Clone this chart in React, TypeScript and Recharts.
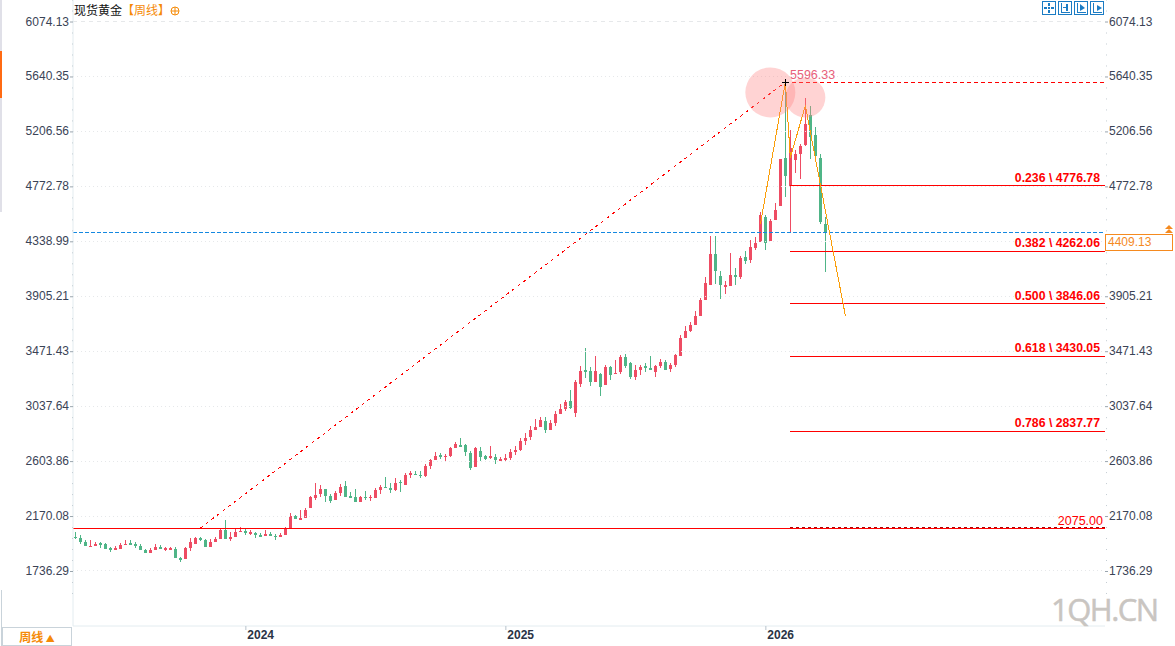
import React from "react";
import { ComposedChart, Bar, Line, XAxis, YAxis, ReferenceLine, ReferenceDot } from "recharts";

const yearLabels = ["2024", "2025", "2026"];
const yearTicks = [34, 86, 138];
const priceTicks = [6074.13, 5640.35, 5206.56, 4772.78, 4338.99, 3905.21, 3471.43, 3037.64, 2603.86, 2170.08, 1736.29];

const opens = [2001,1996,1965,1928,1936,1957,1949,1917,1904,1909,1941,1957,1951,1933,1904,1878,1901,1925,1901,1901,1909,1838,1830,1917,1949,1996,1980,1925,1965,1988,2059,1988,2004,2044,2051,2028,2036,2020,2012,2028,2015,2004,2020,2075,2172,2141,2156,2235,2314,2346,2380,2330,2299,2354,2409,2330,2322,2283,2322,2314,2314,2377,2401,2393,2377,2435,2417,2498,2504,2496,2488,2567,2614,2654,2641,2646,2709,2733,2733,2670,2559,2685,2646,2630,2638,2606,2614,2630,2677,2693,2766,2797,2853,2876,2924,2853,2908,2979,3018,3082,2987,3216,3326,3319,3232,3295,3208,3350,3295,3311,3429,3381,3271,3326,3358,3342,3311,3358,3389,3334,3366,3434,3576,3631,3678,3749,3876,3994,4239,4065,3978,3986,4073,4057,4215,4191,4286,4334,4531,4342,4507,4618,4993,4772,4977,5025,5096,5340,5175,4999,4476];
const closes = [1996,1965,1936,1933,1949,1941,1912,1899,1917,1941,1949,1941,1933,1901,1880,1901,1925,1909,1917,1917,1838,1823,1917,1965,1996,1980,1925,1965,1986,2059,1988,2004,2044,2051,2036,2044,2020,2004,2028,2012,2001,2020,2075,2170,2149,2154,2220,2320,2338,2380,2330,2291,2354,2401,2322,2314,2283,2322,2314,2322,2377,2401,2393,2377,2433,2430,2496,2509,2496,2488,2567,2614,2646,2638,2646,2709,2741,2717,2677,2549,2709,2638,2622,2646,2614,2622,2630,2677,2693,2764,2790,2853,2876,2932,2853,2908,2979,3018,3074,3026,3232,3319,3311,3232,3319,3192,3350,3287,3303,3429,3358,3271,3326,3350,3342,3326,3358,3389,3326,3366,3445,3576,3631,3678,3749,3876,4010,4239,4104,3994,3994,4073,4057,4207,4183,4294,4325,4547,4326,4499,4586,4985,4851,5072,5025,5088,5269,5159,5009,4492,4409.13];
const highs = [2044,2017,1980,1980,1965,1965,1954,1928,1930,1957,1980,1980,1965,1946,1909,1915,1949,1938,1925,1928,1925,1846,1925,1996,2004,2004,1986,1986,2004,2073,2138,2046,2070,2083,2067,2059,2044,2033,2059,2044,2028,2036,2083,2194,2180,2220,2233,2327,2430,2417,2385,2346,2364,2425,2449,2362,2385,2330,2370,2338,2393,2417,2480,2433,2472,2456,2512,2527,2527,2527,2583,2622,2677,2670,2662,2717,2756,2788,2741,2685,2717,2717,2654,2725,2662,2638,2662,2701,2725,2790,2825,2884,2940,2955,2955,2932,3003,3058,3090,3169,3248,3358,3500,3350,3437,3303,3366,3358,3405,3445,3453,3389,3366,3366,3381,3437,3366,3413,3405,3381,3453,3599,3670,3702,3789,3891,4057,4381,4381,4104,4026,4247,4128,4223,4262,4349,4373,4573,4547,4515,4642,4990,5596.33,5214,5056,5109,5467,5411,5238,5025,4531];
const lows = [1991,1949,1933,1925,1933,1917,1909,1886,1901,1909,1938,1938,1920,1901,1878,1878,1901,1909,1894,1901,1838,1807,1830,1896,1949,1972,1925,1925,1965,1988,1988,1972,2004,2044,2020,2020,1996,2004,2012,2012,1983,2004,2020,2075,2149,2141,2156,2230,2299,2325,2285,2275,2291,2330,2322,2314,2283,2283,2299,2291,2314,2346,2393,2354,2370,2362,2417,2472,2496,2472,2480,2543,2614,2622,2598,2638,2709,2717,2646,2535,2559,2606,2614,2622,2583,2606,2598,2614,2654,2685,2734,2774,2853,2876,2829,2853,2884,2979,3003,3018,2955,3192,3263,3200,3232,3121,3208,3247,3295,3295,3342,3255,3247,3287,3311,3326,3271,3342,3326,3311,3350,3434,3576,3623,3678,3749,3876,3994,4002,3883,3923,3986,3994,4041,4160,4168,4270,4334,4270,4342,4507,4618,4689,4402,4875,4835,5088,4993,4977,4476,4097];

const rows = opens.map((open, i) => ({ i, open, close: closes[i], high: highs[i], low: lows[i] }));

const swingIndex = [137, 142, 143, 146, 154];
const swingPrice = [4472, 5596.33, 5000, 5411, 3753];
const swingRows = swingIndex.map((i, k) => ({ i, swing: swingPrice[k] }));

const fibRatios = ["0.236", "0.382", "0.500", "0.618", "0.786"];
const fibPrices = [4776.78, 4262.06, 3846.06, 3430.05, 2837.77];
const fibLabels = ["4776.78", "4262.06", "3846.06", "3430.05", "2837.77"];

const peakPrice = 5596.33;
const peakText = "5596.33";
const supportPrice = 2075;
const supportText = "2075.00";
const lastPrice = 4409.13;
const lastText = "4409.13";

const X_MIN = -0.47;
const X_MAX = 205.93;
const Y_MIN = 1302;
const Y_MAX = 6244;
const UP = "#EE4C63";
const DOWN = "#4FB587";
const RED = "#FF0000";
const ORANGE = "#FA9E0A";
const TXT = "#3A4356";
const FONT = "'Liberation Sans', Arial, sans-serif";

const axisTicks: number[] = [];
priceTicks.forEach((t) => {
  for (let k = -2; k <= 2; k++) axisTicks.push(t + (k * 433.78) / 5);
});
const isMajor = (v: number) => priceTicks.some((t) => Math.abs(t - v) < 0.01);

const Candle = (p: any) => {
  const { x, y, width, height, payload } = p;
  if (payload == null || payload.high == null || !height) return null;
  const { open, close, high, low } = payload;
  const k = height / (high - low);
  const cx = Math.round(x + width / 2);
  const top = Math.round(y + (high - Math.max(open, close)) * k);
  const bot = Math.round(y + (high - Math.min(open, close)) * k);
  const c = close >= open ? UP : DOWN;
  return (
    <g shapeRendering="crispEdges">
      <rect x={cx} y={Math.round(y)} width={1} height={Math.max(1, Math.round(height))} fill={c} />
      <rect x={cx - 1} y={top} width={3} height={Math.max(1, bot - top)} fill={c} />
    </g>
  );
};

const YTick = (side: "left" | "right") => (p: any) => {
  const { y, payload } = p;
  const v = payload.value;
  const ax = side === "left" ? 72 : 1106;
  if (!isMajor(v)) return <rect x={ax} y={y} width={1} height={1} fill="#C4CDD3" />;
  return (
    <g>
      <rect x={side === "left" ? 70 : 1105} y={y} width={3} height={1} fill="#9AA5AE" />
      <text
        x={side === "left" ? 69 : 1109}
        y={y + 4}
        textAnchor={side === "left" ? "end" : "start"}
        fontSize={12}
        fontFamily={FONT}
        fill={TXT}
      >
        {v.toFixed(2)}
      </text>
    </g>
  );
};

const XTick = (p: any) => {
  const { x, payload } = p;
  const idx = yearTicks.indexOf(payload.value);
  return (
    <g>
      <rect x={x} y={626} width={1} height={4} fill="#B8C4CC" />
      <text x={x + 2} y={639} fontSize={12} fontWeight="bold" fontFamily={FONT} fill="#2A3345">
        {yearLabels[idx]}
      </text>
    </g>
  );
};

const Cross = (p: any) => (
  <g shapeRendering="crispEdges">
    <rect x={Math.round(p.cx) - 3} y={Math.round(p.cy)} width={7} height={1} fill="#000" />
    <rect x={Math.round(p.cx)} y={Math.round(p.cy) - 3} width={1} height={7} fill="#000" />
  </g>
);

const Abs = ({ l, t, w, h, style, children }: any) => (
  <div style={{ position: "absolute", left: l, top: t, width: w, height: h, ...style }}>{children}</div>
);

const ToolIcon = ({ l, kind }: { l: number; kind: number }) => (
  <svg style={{ position: "absolute", left: l, top: 1 }} width={14} height={14}>
    <rect x={0.5} y={0.5} width={13} height={13} fill="#fff" stroke="#1B7CC4" />
    {kind === 0 ? (
      <g fill="#1B7CC4">
        <rect x={6} y={2} width={2} height={3} />
        <rect x={6} y={9} width={2} height={3} />
        <rect x={2} y={6} width={3} height={2} />
        <rect x={9} y={6} width={3} height={2} />
        <rect x={6} y={6} width={2} height={2} />
      </g>
    ) : (
      <g fill="#1B7CC4">
        <rect x={3} y={2} width={1} height={9} />
        <rect x={3} y={11} width={9} height={1} />
        {kind === 1 ? <rect x={8} y={3} width={2} height={7} /> : null}
        {kind === 1 ? <rect x={5} y={6} width={3} height={1} /> : null}
        {kind === 2 ? <path d="M6 3 L11 7 L6 10 Z" /> : null}
        {kind === 3 ? <path d="M7 4 L12 7 L7 10 Z" /> : null}
      </g>
    )}
  </svg>
);

export default function App() {
  return (
    <div style={{ position: "absolute", left: 0, top: 0, width: 1175, height: 646, background: "#fff", overflow: "hidden" }}>
      <ComposedChart
        width={1175}
        height={646}
        data={rows}
        margin={{ top: 0, right: 0, bottom: 0, left: 0 }}
        barCategoryGap={0}
      >
        <XAxis
          xAxisId={0}
          dataKey="i"
          type="number"
          domain={[X_MIN, X_MAX]}
          allowDataOverflow
          ticks={yearTicks}
          height={20}
          interval={0}
          tick={XTick}
          tickLine={false}
          axisLine={{ stroke: "#E3ECF0" }}
        />
        <YAxis
          yAxisId={0}
          orientation="left"
          width={73}
          type="number"
          domain={[Y_MIN, Y_MAX]}
          allowDataOverflow
          ticks={axisTicks}
          interval={0}
          tick={YTick("left")}
          tickLine={false}
          axisLine={{ stroke: "#E3ECF0" }}
        />
        <YAxis
          yAxisId={1}
          orientation="right"
          width={70}
          type="number"
          domain={[Y_MIN, Y_MAX]}
          allowDataOverflow
          ticks={axisTicks}
          interval={0}
          tick={YTick("right")}
          tickLine={false}
          axisLine={false}
        />
        {priceTicks.map((t, n) => (
          <ReferenceLine key={t} y={t} stroke="#E6E8EA" strokeDasharray={n === 0 ? "4 4" : "1 3"} shapeRendering="crispEdges" />
        ))}
        <ReferenceDot x={139} y={5514} r={25} fill="rgba(255,130,130,0.35)" stroke="none" ifOverflow="visible" />
        <ReferenceDot x={146} y={5474} r={20} fill="rgba(255,130,130,0.35)" stroke="none" ifOverflow="visible" />
        <Bar
          dataKey={(d: any) => (d.high == null ? null : [d.low, d.high])}
          shape={Candle}
          barSize={5}
          isAnimationActive={false}
        />
        <ReferenceLine y={lastPrice} stroke="#1488E0" strokeDasharray="4 2" shapeRendering="crispEdges" />
        <ReferenceLine y={supportPrice} stroke={RED} shapeRendering="crispEdges" />
        <ReferenceLine
          segment={[{ x: 143, y: supportPrice + 8 }, { x: X_MAX, y: supportPrice + 8 }]}
          stroke="#B00000"
          strokeDasharray="3 3"
          shapeRendering="crispEdges"
          label={{ value: supportText, position: "insideBottomRight", offset: 2, fill: RED, fontSize: 12.5, fontFamily: FONT }}
        />
        <ReferenceLine
          segment={[{ x: 25, y: supportPrice }, { x: 142, y: peakPrice }]}
          stroke={RED}
          strokeDasharray="3 4"
          shapeRendering="crispEdges"
        />
        <ReferenceLine
          segment={[{ x: 142, y: peakPrice }, { x: X_MAX, y: peakPrice }]}
          stroke={RED}
          strokeDasharray="4 3"
          shapeRendering="crispEdges"
        />
        {fibPrices.map((v, n) => (
          <ReferenceLine
            key={v}
            segment={[{ x: 143, y: v }, { x: X_MAX, y: v }]}
            stroke={RED}
            shapeRendering="crispEdges"
            label={{
              value: `${fibRatios[n]} \\ ${fibLabels[n]}`,
              position: "insideBottomRight",
              offset: 4,
              dx: -1,
              fill: RED,
              fontSize: 12.25,
              fontWeight: "bold",
              fontFamily: FONT,
            }}
          />
        ))}
        <Line
          data={swingRows}
          dataKey="swing"
          stroke={ORANGE}
          strokeWidth={1}
          dot={false}
          activeDot={false}
          isAnimationActive={false}
          legendType="none"
          shapeRendering="crispEdges"
        />
        <ReferenceDot x={142} y={peakPrice} shape={Cross} ifOverflow="visible" />
      </ComposedChart>

      <Abs l={790} t={69} style={{ font: `12.5px ${FONT}`, color: "#E8607A", lineHeight: "13px" }}>{peakText}</Abs>

      <Abs l={74} t={2} style={{ font: "12px 'Noto Sans CJK SC'", lineHeight: "16px", color: "#111", whiteSpace: "nowrap" }}>
        现货黄金<span style={{ color: "#F58A07" }}>【周线】</span>
      </Abs>
      <svg style={{ position: "absolute", left: 170, top: 6 }} width={10} height={10}>
        <circle cx={5} cy={5} r={4} fill="none" stroke="#F58A07" />
        <path d="M1 5 H9 M5 1 V9" stroke="#F58A07" />
      </svg>

      <ToolIcon l={1042} kind={0} />
      <ToolIcon l={1058} kind={1} />
      <ToolIcon l={1074} kind={2} />
      <ToolIcon l={1090} kind={3} />

      <Abs l={1105} t={234} w={68} h={17} style={{ border: "1px solid #F58A1F", boxSizing: "border-box", background: "#fff" }} />
      <Abs l={1108} t={235} style={{ font: `12px ${FONT}`, color: "#F58A1F", lineHeight: "14px" }}>{lastText}</Abs>
      <svg style={{ position: "absolute", left: 1164, top: 225 }} width={10} height={9}>
        <path d="M5 0 L9 4 H1 Z M5 4 L9 8 H1 Z" fill="#F58A1F" />
      </svg>

      <Abs l={0} t={0} w={2} h={212} style={{ background: "#E0E0E8" }} />
      <Abs l={0} t={51} w={2} h={47} style={{ background: "#FF6A13" }} />
      <Abs l={1} t={590} w={1} h={56} style={{ background: "#C9D3DA" }} />
      <Abs
        l={2}
        t={627}
        w={70}
        h={19}
        style={{
          boxSizing: "border-box",
          border: "1px solid #C9D3DA",
          textAlign: "center",
          font: "bold 12px 'Noto Sans CJK SC'",
          lineHeight: "17px",
          color: "#F58A07",
        }}
      >
        周线 <span style={{ fontSize: 9 }}>▲</span>
      </Abs>

      <Abs
        l={1051}
        t={591}
        style={{
          font: "31px 'Open Sans'",
          letterSpacing: "-1.5px",
          lineHeight: "36px",
          color: "#C9C5C1",
          whiteSpace: "nowrap",
          WebkitTextStroke: "0.5px #C9C5C1",
        }}
      >
        1QH.CN
      </Abs>
    </div>
  );
}
